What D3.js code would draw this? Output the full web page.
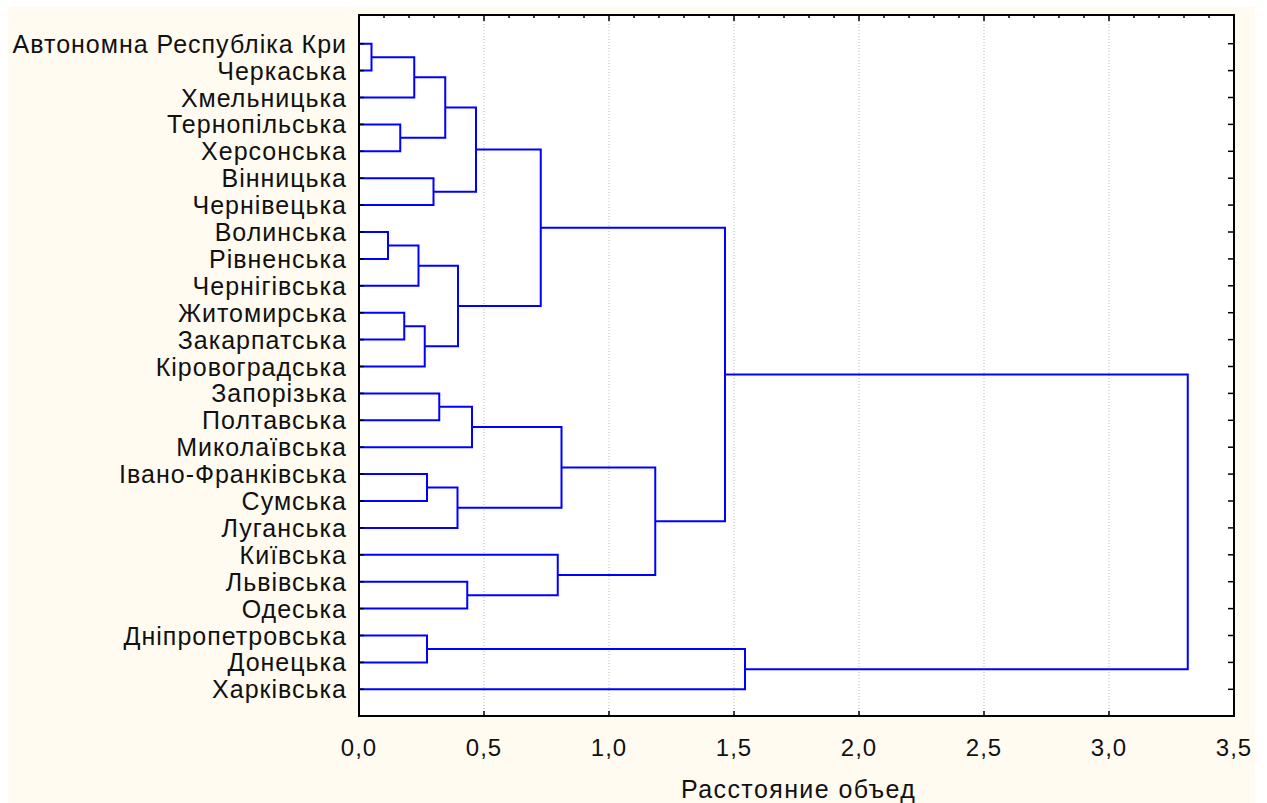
<!DOCTYPE html>
<html>
<head>
<meta charset="utf-8">
<script src="https://cdn.jsdelivr.net/npm/d3@7"></script>
<style>
  body { margin: 0; background: #ffffff; }
  svg text { font-family: "Liberation Sans", Arial, sans-serif; fill: #111; }
</style>
</head>
<body>
<svg id="chart" width="1267" height="803"></svg>
<script>
// leaves, top to bottom
const labels = [
  "Автономна Республіка Кри", "Черкаська", "Хмельницька", "Тернопільська",
  "Херсонська", "Вінницька", "Чернівецька", "Волинська", "Рівненська",
  "Чернігівська", "Житомирська", "Закарпатська", "Кіровоградська",
  "Запорізька", "Полтавська", "Миколаївська", "Івано-Франківська",
  "Сумська", "Луганська", "Київська", "Львівська", "Одеська",
  "Дніпропетровська", "Донецька", "Харківська"
]

// joins: ids < 25 are leaves, id 25+k is the cluster made by join k
const merges = [
  [0, 1], [25, 2], [3, 4], [26, 27], [5, 6], [28, 29],
  [7, 8], [31, 9], [10, 11], [33, 12], [32, 34], [30, 35],
  [13, 14], [37, 15], [16, 17], [39, 18], [38, 40],
  [20, 21], [19, 42], [41, 43], [36, 44],
  [22, 23], [46, 24], [45, 47]
]

const heights = [
  0.05, 0.221, 0.165, 0.345, 0.298, 0.468,
  0.116, 0.238, 0.181, 0.263, 0.396, 0.727,
  0.321, 0.452, 0.272, 0.394, 0.810,
  0.433, 0.795, 1.185, 1.464,
  0.272, 1.544, 3.315
]

const tickValues = [0, 0.5, 1, 1.5, 2, 2.5, 3, 3.5]
const tickLabels = ["0,0", "0,5", "1,0", "1,5", "2,0", "2,5", "3,0", "3,5"]
const axisTitle = "Расстояние объед"

const svg = d3.select("#chart")

const pLeft = 359, pRight = 1234, pTop = 15, pBottom = 716

const x = d3.scaleLinear().domain([0, 3.5]).range([pLeft, pRight])
const y = d3.scalePoint().domain(d3.range(labels.length)).range([43.7, 689.3])

// cream page panel
svg.append("rect")
  .attr("x", 8).attr("y", 7).attr("width", 1247).attr("height", 796)
  .attr("fill", "#fffbf0")

svg.append("rect")
  .attr("x", pLeft).attr("y", pTop).attr("width", pRight - pLeft).attr("height", pBottom - pTop)
  .attr("fill", "#ffffff")

// dotted grid
svg.append("g").selectAll("line")
  .data(tickValues.slice(1, -1))
  .enter().append("line")
  .attr("x1", d => x(d)).attr("x2", d => x(d))
  .attr("y1", pTop).attr("y2", pBottom)
  .attr("stroke", "#b8b8b8")
  .attr("stroke-width", 1)
  .attr("stroke-dasharray", "1,2")

// node positions: leaves on their rows, clusters midway between children
const pos = labels.map((d, i) => ({ x: 0, y: y(i) }))
merges.forEach((m, k) => {
  const a = pos[m[0]], b = pos[m[1]]
  pos.push({ x: heights[k], y: (a.y + b.y) / 2 })
})

const links = svg.append("g")
  .attr("fill", "none")
  .attr("stroke", "#0000ff")
  .attr("stroke-width", 2)

links.selectAll("path")
  .data(merges)
  .enter().append("path")
  .attr("d", (m, k) => {
    const a = pos[m[0]], b = pos[m[1]], h = x(heights[k])
    return "M" + x(a.x) + "," + a.y + "H" + h + "V" + b.y + "H" + x(b.x)
  })

// frame
svg.append("rect")
  .attr("x", pLeft).attr("y", pTop).attr("width", pRight - pLeft).attr("height", pBottom - pTop)
  .attr("fill", "none").attr("stroke", "#000").attr("stroke-width", 2)

// top ticks every 0.1
const ticks = svg.append("g").attr("stroke", "#000").attr("stroke-width", 1.5)
ticks.selectAll(".tt")
  .data(d3.range(1, 35))
  .enter().append("line")
  .attr("x1", d => x(d / 10)).attr("x2", d => x(d / 10))
  .attr("y1", pTop).attr("y2", d => pTop + (d % 5 === 0 ? 6 : 3))

// bottom ticks
ticks.selectAll(".bt")
  .data(tickValues.slice(1, -1))
  .enter().append("line")
  .attr("x1", d => x(d)).attr("x2", d => x(d))
  .attr("y1", pBottom).attr("y2", pBottom - 5)

// row ticks, both sides
ticks.selectAll(".lt")
  .data(labels)
  .enter().append("line")
  .attr("x1", pLeft).attr("x2", pLeft + 5)
  .attr("y1", (d, i) => y(i)).attr("y2", (d, i) => y(i))
ticks.selectAll(".rt")
  .data(labels)
  .enter().append("line")
  .attr("x1", pRight).attr("x2", pRight - 6)
  .attr("y1", (d, i) => y(i)).attr("y2", (d, i) => y(i))

// leaf labels
svg.append("g").selectAll("text")
  .data(labels)
  .enter().append("text")
  .attr("x", 347)
  .attr("y", (d, i) => y(i))
  .attr("dy", "0.36em")
  .attr("text-anchor", "end")
  .style("font-size", "25px")
  .style("letter-spacing", "1px")
  .text(d => d)

// x tick labels
svg.append("g").selectAll("text")
  .data(tickValues)
  .enter().append("text")
  .attr("x", d => x(d))
  .attr("y", 747)
  .attr("dy", "0.36em")
  .attr("text-anchor", "middle")
  .style("font-size", "24px")
  .style("letter-spacing", "1px")
  .text((d, i) => tickLabels[i])

svg.append("text")
  .attr("x", 681)
  .attr("y", 798)
  .style("font-size", "25px")
  .style("letter-spacing", "1.4px")
  .text(axisTitle)
</script>
</body>
</html>
